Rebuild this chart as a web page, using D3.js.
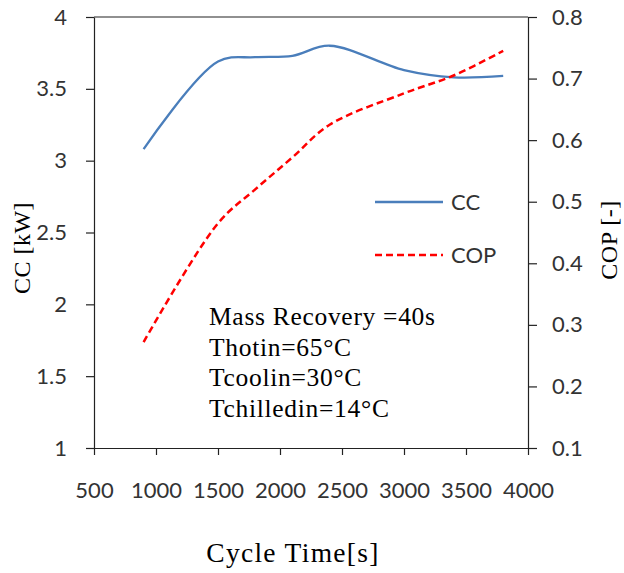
<!DOCTYPE html>
<html>
<head>
<meta charset="utf-8">
<script src="https://cdn.jsdelivr.net/npm/d3@7"></script>
<style>
  body { margin: 0; background: #fff; }
  .tick text { font-family: Lato, "Open Sans", sans-serif; font-size: 22px; fill: #333; }
  .serif { font-family: "Liberation Serif", "Times New Roman", serif; fill: #000; }
</style>
</head>
<body>
<svg id="chart" width="624" height="573"></svg>
<script>
// data
var cycle_time = [900, 1500, 1800, 2100, 2400, 3000, 3400, 3800];
var cc_values  = [3.08, 3.69, 3.72, 3.73, 3.80, 3.63, 3.58, 3.59];
var cop_values = [0.272, 0.465, 0.52, 0.572, 0.625, 0.676, 0.705, 0.745];
var x_ticks = [500, 1000, 1500, 2000, 2500, 3000, 3500, 4000];
var cc_ticks = [1, 1.5, 2, 2.5, 3, 3.5, 4];
var cop_ticks = [0.1, 0.2, 0.3, 0.4, 0.5, 0.6, 0.7, 0.8];
var notes = ["Mass Recovery =40s", "Thotin=65\u00B0C", "Tcoolin=30\u00B0C", "Tchilledin=14\u00B0C"];

var svg = d3.select("#chart"),
    margin = {top: 17, right: 96, bottom: 125, left: 94},
    width = +svg.attr("width") - margin.left - margin.right,
    height = +svg.attr("height") - margin.top - margin.bottom,
    group = svg.append("g").attr("transform", "translate(" + margin.left + "," + margin.top + ")");

var xscale = d3.scaleLinear().domain([500, 4000]).range([0, width]);
var yleft = d3.scaleLinear().domain([1, 4]).range([height, 0]);
var yright = d3.scaleLinear().domain([0.1, 0.8]).range([height, 0]);

function style_axis(g) {
    g.selectAll("path, line").attr("stroke", "#222").attr("stroke-width", 1.2);
}

// axes
group.append("g")
    .attr("class", "x_axis")
    .attr("transform", "translate(0," + height + ")")
    .call(d3.axisBottom(xscale).tickValues(x_ticks).tickSize(7).tickPadding(27).tickSizeOuter(0).tickFormat(String))
    .call(style_axis);

group.append("g")
    .attr("class", "y_axis")
    .call(d3.axisLeft(yleft).tickValues(cc_ticks).tickSize(8).tickPadding(19).tickSizeOuter(0).tickFormat(String))
    .call(style_axis);

group.append("g")
    .attr("class", "y2_axis")
    .attr("transform", "translate(" + width + ",0)")
    .call(d3.axisRight(yright).tickValues(cop_ticks).tickSize(9).tickPadding(15).tickSizeOuter(0).tickFormat(String))
    .call(style_axis);

// top border
group.append("line")
    .attr("x1", 0).attr("x2", width)
    .attr("y1", 0).attr("y2", 0)
    .attr("stroke", "#222").attr("stroke-width", 1.2);

// lines
var cc_line = d3.line()
    .x(function(d, i) { return xscale(cycle_time[i]); })
    .y(function(d) { return yleft(d); })
    .curve(d3.curveCatmullRom.alpha(0.5));

var cop_line = d3.line()
    .x(function(d, i) { return xscale(cycle_time[i]); })
    .y(function(d) { return yright(d); })
    .curve(d3.curveCatmullRom.alpha(0.5));

group.append("path")
    .datum(cc_values)
    .attr("fill", "none")
    .attr("stroke", "#4a7ebb")
    .attr("stroke-width", 2.3)
    .attr("d", cc_line);

group.append("path")
    .datum(cop_values)
    .attr("fill", "none")
    .attr("stroke", "#ff0000")
    .attr("stroke-width", 2.5)
    .attr("stroke-dasharray", "7,4")
    .attr("d", cop_line);

// legend
var legend = svg.append("g");
legend.append("line")
    .attr("x1", 375).attr("x2", 443).attr("y1", 202).attr("y2", 202)
    .attr("stroke", "#4a7ebb").attr("stroke-width", 2.3);
legend.append("text")
    .attr("x", 451).attr("y", 202).attr("dy", "0.35em")
    .attr("font-family", "Lato, sans-serif").attr("font-size", 22).attr("fill", "#333")
    .text("CC");
legend.append("line")
    .attr("x1", 375).attr("x2", 443).attr("y1", 255).attr("y2", 255)
    .attr("stroke", "#ff0000").attr("stroke-width", 2.5).attr("stroke-dasharray", "7,4");
legend.append("text")
    .attr("x", 451).attr("y", 255).attr("dy", "0.35em")
    .attr("font-family", "Lato, sans-serif").attr("font-size", 22).attr("fill", "#333")
    .text("COP");

// notes
svg.append("g").selectAll("text")
    .data(notes)
    .enter().append("text")
    .attr("class", "serif")
    .attr("x", 209)
    .attr("y", function(d, i) { return 325 + i * 30.6; })
    .attr("font-size", 25.5)
    .attr("letter-spacing", 0.7)
    .text(function(d) { return d; });

// axis titles
svg.append("text")
    .attr("class", "serif")
    .attr("font-size", 27.5)
    .attr("letter-spacing", 1.3)
    .attr("text-anchor", "middle")
    .attr("x", 293).attr("y", 562)
    .text("Cycle Time[s]");

svg.append("text")
    .attr("class", "serif")
    .attr("font-size", 24)
    .attr("letter-spacing", 0.5)
    .attr("text-anchor", "middle")
    .attr("transform", "translate(30,248) rotate(-90)")
    .text("CC [kW]");

svg.append("text")
    .attr("class", "serif")
    .attr("font-size", 24)
    .attr("letter-spacing", 0.5)
    .attr("text-anchor", "middle")
    .attr("transform", "translate(617,240) rotate(-90)")
    .text("COP [-]");
</script>
</body>
</html>
